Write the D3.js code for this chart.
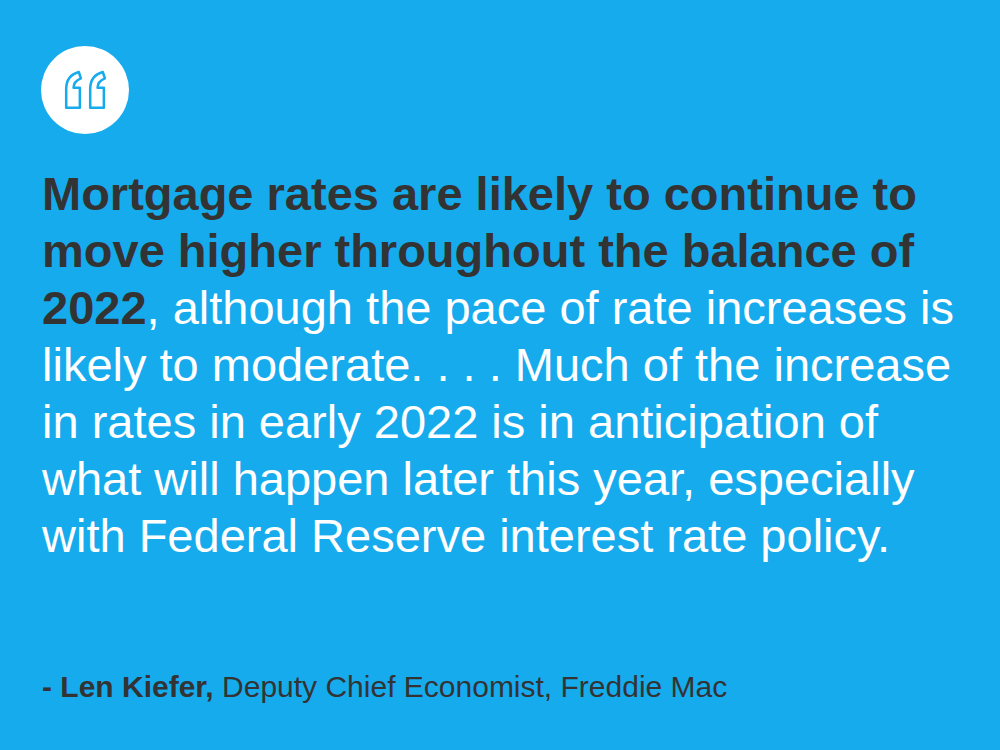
<!DOCTYPE html>
<html><head><meta charset="utf-8">
<script src="https://cdn.jsdelivr.net/npm/d3@7"></script>
<style>body{margin:0;background:#16abed}</style>
</head><body>
<script>
// quote lines, each a list of [text, bold]
const quoteLines = [
    [["Mortgage rates are likely to continue to", true]],
    [["move higher throughout the balance of", true]],
    [["2022", true], [", although the pace of rate increases is", false]],
    [["likely to moderate. . . . Much of the increase", false]],
    [["in rates in early 2022 is in anticipation of", false]],
    [["what will happen later this year, especially", false]],
    [["with Federal Reserve interest rate policy.", false]]
];
const attribution = [["- Len Kiefer,", true], [" Deputy Chief Economist, Freddie Mac", false]];

const width = 1000, height = 750;
const svg = d3.select("body").append("svg")
    .attr("width", width).attr("height", height)
    .style("font-family", "'Liberation Sans', Arial, sans-serif");

svg.append("rect").attr("width", width).attr("height", height).attr("fill", "#16abed");

//quote icon
svg.append("circle").attr("cx", 85).attr("cy", 90).attr("r", 44).attr("fill", "#fff");
const markPath = "M4,34 L4,16 C4,7 9,2 16,0 L18,6 C13,8 11,11 11,15 L17,15 L17,34 Z";
[62, 86].forEach(x => {
    svg.append("path").attr("d", markPath)
        .attr("transform", `translate(${x},72) scale(1.05)`)
        .attr("fill", "none").attr("stroke", "#16abed").attr("stroke-width", 2.4)
        .attr("stroke-linejoin", "round");
});

//quote text
const y = d3.scaleLinear().domain([0, 1]).range([210, 267]);
svg.selectAll("text.q")
    .data(quoteLines)
    .enter()
    .append("text")
        .attr("class", "q")
        .attr("x", 42)
        .attr("y", (d, i) => y(i))
        .style("font-size", "47px")
    .selectAll("tspan")
    .data(d => d)
    .enter()
    .append("tspan")
        .text(d => d[0])
        .attr("font-weight", d => d[1] ? "bold" : "normal")
        .attr("fill", d => d[1] ? "#333333" : "#ffffff");

//attribution
svg.append("text")
    .attr("x", 42).attr("y", 697)
    .style("font-size", "30px")
    .attr("fill", "#333333")
    .selectAll("tspan")
    .data(attribution)
    .enter()
    .append("tspan")
        .text(d => d[0])
        .attr("font-weight", d => d[1] ? "bold" : "normal");
</script>
</body></html>
